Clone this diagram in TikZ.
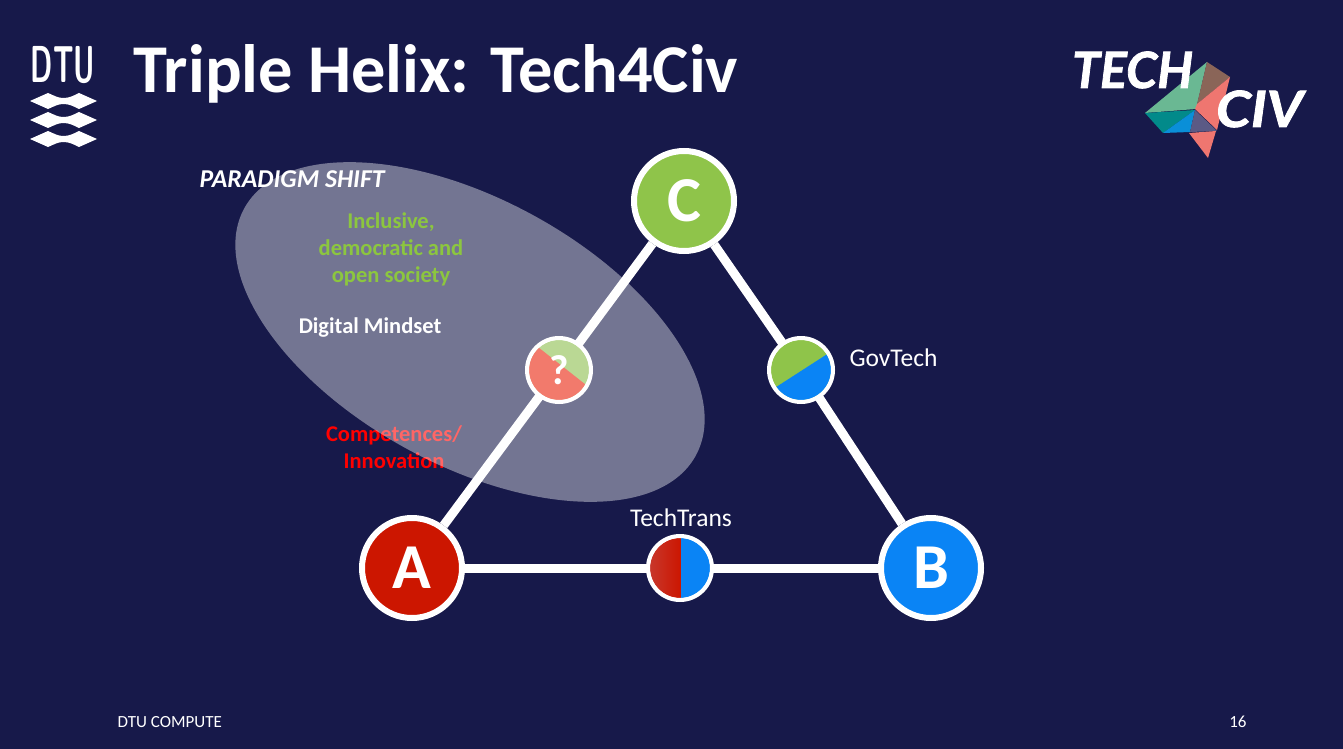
\documentclass[tikz,border=0pt]{standalone}
\usepackage{fontspec}
\setmainfont{Carlito}
\newfontfamily\logofont[FakeBold=1.6]{Lato}
\usetikzlibrary{calc}
\definecolor{bg}{HTML}{17194A}
\definecolor{cgreen}{HTML}{8FC44A}
\definecolor{cred}{HTML}{CC1600}
\definecolor{lred}{HTML}{C8372C}
\definecolor{cblue}{HTML}{0A84F5}
\definecolor{lgreen}{HTML}{BAD894}
\definecolor{salmon}{HTML}{F27A6C}
\definecolor{tgreen}{HTML}{8CC63F}
\definecolor{lg1}{HTML}{6AB893}
\definecolor{lg2}{HTML}{8A6558}
\definecolor{lg3}{HTML}{EF7670}
\definecolor{lg4}{HTML}{028A8A}
\definecolor{lg5}{HTML}{0A8FD8}
\definecolor{lg6}{HTML}{5B5A85}
\tikzset{
  big/.style={circle,draw=white,line width=6pt,minimum size=100pt,inner sep=0pt,text=white,font=\fontsize{64}{64}\selectfont\bfseries},
  small/.style={circle,draw=white,line width=4pt,minimum size=62pt,inner sep=0pt,text=white},
  link/.style={draw=white,line width=9pt},
  lab/.style={text=white,font=\fontsize{25.5}{30}\selectfont},
  body/.style={align=center,font=\fontsize{22.5}{27}\selectfont\bfseries},
  wave/.style={fill=white,draw=none},
  logotext/.style={text=white,inner sep=0pt,font=\fontsize{50}{50}\selectfont\logofont\bfseries\itshape}
}
\newcommand{\wavepath}[1]{%
  \fill[wave,shift={(0,#1)}] (30,0) -- (48,-8) .. controls (55,-5) and (58,-3) .. (63.5,-3) .. controls (69,-3) and (73,-5) .. (79,-8) -- (97,0) -- (79,8) .. controls (73,5) and (69,3) .. (63.5,3) .. controls (58,3) and (55,5) .. (48,8) -- cycle;}
\begin{document}
\begin{tikzpicture}[x=1pt,y=-1pt]
\useasboundingbox (0,0) rectangle (1343,749);
\fill[bg] (0,0) rectangle (1343,749);
% red text lies under the translucent ellipse
\node[body,text=red] (co) at (394,447) {Competences/\\Innovation};
\fill[white,fill opacity=0.4,rotate around={-28.7:(470,332)}] (470,332) ellipse [x radius=257.4,y radius=132.8];
% nodes
\node[big,fill=cred] (A) at (412,568) {\raisebox{-2pt}{A}};
\node[big,fill=cblue] (B) at (931,568) {\raisebox{-2pt}{B}};
\node[big,fill=cgreen] (C) at (684,201) {\raisebox{-2pt}{C}};
\node[small] (Q) at (559,370) {};
\node[small] (G) at (801,370) {};
\node[small] (T) at (680,568) {};
% connectors
\draw[link] (A) -- (Q);
\draw[link] (Q) -- (C);
\draw[link] (C) -- (G);
\draw[link] (G) -- (B);
\draw[link] (A) -- (T);
\draw[link] (T) -- (B);
% split fills
\begin{scope}
\clip (Q) circle (30pt);
\fill[lgreen] (Q) circle (31pt);
\fill[salmon] (529,340) -- (595,392) -- (595,410) -- (520,410) -- cycle;
\end{scope}
\begin{scope}
\clip (G) circle (30pt);
\fill[cgreen] (G) circle (31pt);
\fill[cblue] (770,391) -- (832,351) -- (840,410) -- (770,410) -- cycle;
\end{scope}
\begin{scope}
\clip (T) circle (30pt);
\shade[left color=lred,right color=cred] (649,530) rectangle (681,610);
\fill[cblue] (681,530) rectangle (720,610);
\end{scope}
\draw[white,line width=4pt] (Q) circle (32pt) (G) circle (32pt) (T) circle (32pt);
\node[text=white,font=\fontsize{42}{42}\selectfont\bfseries] (qm) at (559,370) {?};
% labels
\node[lab,anchor=west] (lG) at (846,358) {GovTech};
\node[lab,anchor=center] (lT) at (681,518) {TechTrans};
\node[text=white,font=\fontsize{25.7}{30}\selectfont\bfseries\itshape,anchor=west] (ps) at (196,179) {PARADIGM SHIFT};
\node[body,text=tgreen] (inc) at (391,249) {Inclusive,\\democratic and\\open society};
\node[body,text=white] (dm) at (370,328) {Digital Mindset};
% title and footer
\node[text=white,anchor=west,font=\fontsize{68.4}{68}\selectfont\bfseries] (title) at (130,74) {Triple Helix: Tech4Civ};
\node[text=white,anchor=west,font=\fontsize{17}{20}\selectfont] (foot) at (114,722) {DTU COMPUTE};
\node[text=white,anchor=east,font=\fontsize{17}{20}\selectfont] (num) at (1250,722) {16};
% DTU logo
\node[text=white,anchor=center,inner sep=0pt] (dtu) at (63,65) {\scalebox{0.54}[1.0]{\fontsize{52}{52}\selectfont\sffamily\bfseries DTU}};
\wavepath{101}
\wavepath{120}
\wavepath{139}
% Tech civ logo
\fill[lg1] (1207,62) -- (1196,109) -- (1145,113) -- cycle;
\fill[lg2] (1207,62) -- (1230,77) -- (1197,104) -- cycle;
\fill[lg3] (1230,77) -- (1217,130) -- (1195,109) -- (1197,104) -- cycle;
\fill[lg4] (1145,113) -- (1195,110) -- (1163,133) -- cycle;
\fill[lg5] (1195,110) -- (1190,132) -- (1163,133) -- cycle;
\fill[lg6] (1195,110) -- (1217,131) -- (1190,132) -- cycle;
\fill[lg3] (1189,133) -- (1216,131) -- (1208,158) -- cycle;
\node[logotext,anchor=base west] (tech) at (1072,88) {TECH};
\node[logotext,anchor=base west] (civ) at (1216,127) {\scalebox{1.12}[1]{CIV}};
\end{tikzpicture}
\end{document}
